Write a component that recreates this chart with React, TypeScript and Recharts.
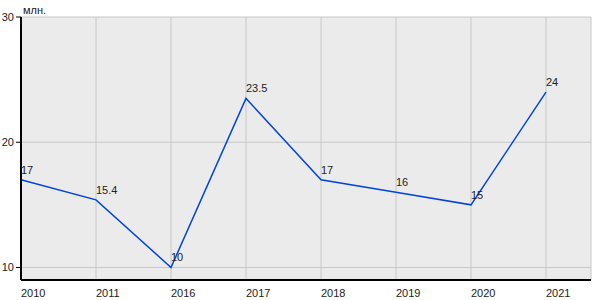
import { LineChart, Line, XAxis, YAxis, CartesianGrid, LabelList } from 'recharts';

const years = ['2010', '2011', '2016', '2017', '2018', '2019', '2020', '2021'];
const values = [17, 15.4, 10, 23.5, 17, 16, 15, 24];
const yTicks = [10, 20, 30];

const data = years.map((year, i) => ({ idx: i, year, value: values[i] }));

const XTick = (props: any) => {
  const { x, y, payload } = props;
  return (
    <text x={x} y={y + 5} textAnchor="start" dominantBaseline="central" fontSize={11} fill="#222">
      {years[payload.value]}
    </text>
  );
};

const PointLabel = (props: any) => {
  const { x, y, value } = props;
  return (
    <text x={x} y={y - 6} textAnchor="start" fontSize={11} fill="#222">
      {value}
    </text>
  );
};

const App = () => {
  return (
    <div style={{ position: 'absolute', left: 0, top: 0, width: 600, height: 300, background: '#fff', fontFamily: 'Liberation Sans, Arial, sans-serif' }}>
      <LineChart width={600} height={300} data={data} margin={{ top: 17, right: 9, left: 0, bottom: 0 }}>
        <CartesianGrid fill="#ebebeb" stroke="#c8c8c8" strokeWidth={1} />
        <XAxis
          dataKey="idx"
          type="number"
          domain={[0, 7.6]}
          ticks={[0, 1, 2, 3, 4, 5, 6, 7]}
          tick={<XTick />}
          tickLine={false}
          axisLine={{ stroke: '#000', strokeWidth: 2 }}
          height={20}
          interval={0}
        />
        <YAxis
          type="number"
          domain={[9, 30]}
          ticks={yTicks}
          width={21}
          tick={{ fontSize: 11, fill: '#222' }}
          tickSize={5}
          tickMargin={2}
          tickLine={{ stroke: '#000' }}
          axisLine={{ stroke: '#000', strokeWidth: 2 }}
        />
        <Line
          type="linear"
          dataKey="value"
          stroke="#0044dd"
          strokeWidth={1.5}
          dot={false}
          isAnimationActive={false}
        >
          <LabelList dataKey="value" content={<PointLabel />} />
        </Line>
        <text x={23} y={14} fontSize={11} fill="#222">млн.</text>
      </LineChart>
    </div>
  );
};

export default App;
